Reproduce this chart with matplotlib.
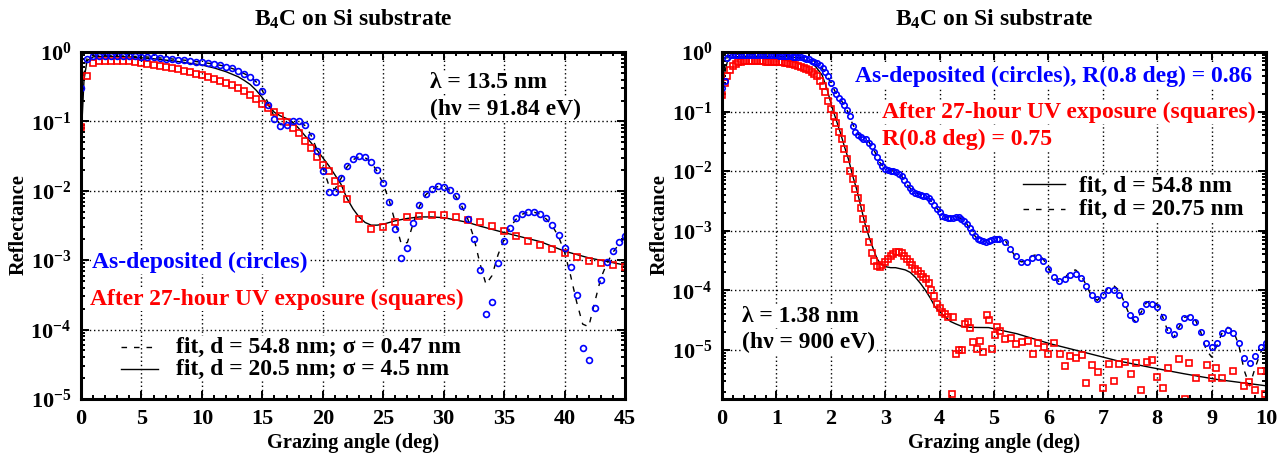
import numpy as np
import matplotlib
matplotlib.use("Agg")
import matplotlib.pyplot as plt
from matplotlib.lines import Line2D
from matplotlib.ticker import LogLocator, NullFormatter, MultipleLocator

# ---------------- data ----------------
# left panel: lambda = 13.5 nm
left_circ_x = [0.0, 0.5, 1.0, 1.5, 2.0, 2.5, 3.0, 3.5, 4.0, 4.5, 5.0, 5.5, 6.0, 6.5, 7.0, 7.5, 8.0, 8.5, 9.0, 9.5,
               10.0, 10.5, 11.0, 11.5, 12.0, 12.5, 13.0, 13.5, 14.0, 14.5, 15.0, 15.5, 16.0, 16.5, 17.0, 17.5, 18.0, 18.5, 19.0, 19.5,
               20.0, 20.5, 21.0, 21.5, 22.0, 22.5, 23.0, 23.5, 24.0, 24.5, 25.0, 25.5, 26.0, 26.5, 27.0, 27.5, 28.0, 28.5, 29.0, 29.5,
               30.0, 30.5, 31.0, 31.5, 32.0, 32.5, 33.0, 33.5, 34.0, 34.5, 35.0, 35.5, 36.0, 36.5, 37.0, 37.5, 38.0, 38.5, 39.0, 39.5,
               40.0, 40.5, 41.0, 41.5, 42.0, 42.5, 43.0, 43.5, 44.0, 44.5, 45.0]
left_circ_r = [0.30, 0.78, 0.87, 0.88, 0.88, 0.88, 0.88, 0.88, 0.87, 0.87,
               0.86, 0.85, 0.84, 0.82, 0.80, 0.79, 0.77, 0.76, 0.74, 0.72,
               0.71, 0.69, 0.67, 0.64, 0.61, 0.58, 0.53, 0.48, 0.43, 0.37,
               0.27, 0.17, 0.11, 0.087, 0.088, 0.10, 0.10, 0.088, 0.062, 0.038,
               0.019, 0.0097, 0.0095, 0.0155, 0.023, 0.029, 0.032, 0.031, 0.026, 0.020,
               0.0128, 0.0068, 0.0028, 0.00107, 0.00148, 0.0034, 0.0062, 0.0089, 0.0107, 0.0117,
               0.0115, 0.0103, 0.0084, 0.0060, 0.0039, 0.0020, 0.00072, 0.000168, 0.00025, 0.00092,
               0.00186, 0.0029, 0.0040, 0.0047, 0.0050, 0.0050, 0.0047, 0.0040, 0.0032, 0.0023,
               0.00148, 0.00079, 0.00032, 0.000055, 0.000037, 0.000205, 0.00052, 0.00095, 0.00136, 0.0018, 0.0022]

left_sq_x = [0.0, 0.5, 1.0, 1.5, 2.0, 2.5, 3.0, 3.5, 4.0, 4.5, 5.0, 5.5, 6.0, 6.5, 7.0, 7.5, 8.0, 8.5, 9.0, 9.5,
             10.0, 10.5, 11.0, 11.5, 12.0, 12.5, 13.0, 13.5, 14.0, 14.5, 15.0, 15.5, 16.0, 16.5, 17.0, 17.5, 18.0, 18.5, 19.0, 19.5,
             20.0, 20.5, 21.0, 21.5, 22.0,
             23, 24, 25, 26, 27, 28, 29, 30, 31, 32, 33, 34, 35, 36, 37, 38, 39, 40, 41, 42, 43, 44, 45]
left_sq_r = [0.082, 0.45, 0.69, 0.74, 0.75, 0.75, 0.75, 0.74, 0.73, 0.72,
             0.70, 0.68, 0.66, 0.63, 0.61, 0.59, 0.57, 0.54, 0.52, 0.49,
             0.47, 0.44, 0.41, 0.385, 0.36, 0.33, 0.30, 0.27, 0.24, 0.21,
             0.18, 0.155, 0.135, 0.12, 0.097, 0.081, 0.067, 0.052, 0.042, 0.031,
             0.0235, 0.019, 0.014, 0.0105, 0.0075,
             0.0039, 0.00285, 0.0030, 0.0035, 0.0042, 0.0044, 0.0045, 0.0045, 0.0042, 0.0038, 0.0035, 0.0031,
             0.00266, 0.0022, 0.0019, 0.00166, 0.00145, 0.00126, 0.00112, 0.00098, 0.0009, 0.00085, 0.00081]

# solid fit (d = 20.5 nm; sigma = 4.5 nm)
left_fit_solid_x = [0, 0.25, 0.5, 1, 2, 4, 6, 8, 10, 11, 12, 13, 13.5, 14, 14.5, 15, 15.5, 16, 16.5, 17, 17.5, 18, 18.5,
                    19, 19.5, 20, 20.5, 21, 21.5, 22, 22.5, 23, 23.5, 24, 24.5, 25, 26, 27, 28, 29, 30, 31, 32, 33,
                    35, 38, 40, 42, 45]
left_fit_solid_r = [0.05, 0.4, 0.75, 0.85, 0.87, 0.85, 0.80, 0.73, 0.65, 0.59, 0.52, 0.44, 0.39, 0.34, 0.28, 0.22, 0.17,
                    0.135, 0.12, 0.11, 0.098, 0.08, 0.063, 0.05, 0.039, 0.030, 0.023, 0.017, 0.0125, 0.0078, 0.0055,
                    0.0042, 0.0035, 0.0032, 0.0032, 0.0033, 0.0037, 0.0040, 0.0042, 0.0042, 0.0041, 0.0038, 0.0035,
                    0.0031, 0.0025, 0.00185, 0.00135, 0.00108, 0.00085]

# dashed fit (d = 54.8 nm; sigma = 0.47 nm)
left_fit_dash_x = [0, 0.5, 1, 3, 5, 7, 9, 11, 12, 13, 14, 14.5,
                   15.0, 15.5, 16.0, 16.5, 17.0, 17.5, 18.0, 18.5, 19.0, 19.5,
                   20.0, 20.5, 21.0, 21.5, 22.0, 22.5, 23.0, 23.5, 24.0, 24.5,
                   25.0, 25.5, 26.0, 26.5, 27.0, 27.5, 28.0, 28.5, 29.0, 29.5,
                   30.0, 30.5, 31.0, 31.5, 32.0, 32.5, 33.0, 33.5, 34.0, 34.5,
                   35.0, 35.5, 36.0, 36.5, 37.0, 37.5, 38.0, 38.5, 39.0, 39.5,
                   40.0, 40.5, 41.0, 41.5, 42.0, 42.5, 43.0, 43.5, 44.0, 44.5, 45.0]
left_fit_dash_r = [0.3, 0.8, 0.88, 0.88, 0.86, 0.81, 0.75, 0.67, 0.62, 0.54, 0.44, 0.37,
                   0.28, 0.18, 0.115, 0.09, 0.088, 0.096, 0.098, 0.088, 0.065, 0.04,
                   0.022, 0.012, 0.0105, 0.015, 0.022, 0.028, 0.031, 0.030, 0.026, 0.019,
                   0.0125, 0.0072, 0.0035, 0.0017, 0.0018, 0.0035, 0.006, 0.0087, 0.0105, 0.0115,
                   0.0113, 0.0102, 0.0083, 0.006, 0.0039, 0.0021, 0.0009, 0.00045, 0.0006, 0.0012,
                   0.002, 0.003, 0.0039, 0.0046, 0.0049, 0.0049, 0.0046, 0.0039, 0.0031, 0.0022,
                   0.0013, 0.0006, 0.00025, 0.00012, 0.00011, 0.00025, 0.00055, 0.0009, 0.0013, 0.0017, 0.0021]

# right panel: lambda = 1.38 nm
right_circ_x = [0.00, 0.05, 0.10, 0.15, 0.20, 0.25, 0.30, 0.35, 0.40, 0.45, 0.50, 0.55, 0.60, 0.65, 0.70, 0.75, 0.80, 0.85, 0.90, 0.95,
                1.00, 1.05, 1.10, 1.15, 1.20, 1.25, 1.30, 1.35, 1.40, 1.45, 1.50, 1.55, 1.60, 1.65, 1.70, 1.75, 1.80, 1.85, 1.90, 1.95,
                2.00, 2.05, 2.10, 2.15, 2.20, 2.25, 2.30, 2.35, 2.40, 2.45, 2.50, 2.55, 2.60, 2.65, 2.70, 2.75, 2.80, 2.85, 2.90, 2.95,
                3.00, 3.05, 3.10, 3.15, 3.20, 3.25, 3.30, 3.35, 3.40, 3.45, 3.50, 3.55, 3.60, 3.65, 3.70, 3.75, 3.80, 3.85, 3.90, 3.95,
                4.00, 4.05, 4.10, 4.15, 4.20, 4.25, 4.30, 4.35, 4.40, 4.45, 4.50, 4.55, 4.60, 4.65, 4.70, 4.75, 4.80, 4.85, 4.90, 4.95,
                5.00, 5.05, 5.10,
                5.2, 5.3, 5.4, 5.5, 5.6, 5.7, 5.8, 5.9, 6.0, 6.1, 6.2, 6.3, 6.4, 6.5, 6.6, 6.7, 6.8, 6.9, 7.0, 7.1,
                7.2, 7.3, 7.4, 7.5, 7.6, 7.7, 7.8, 7.9, 8.0, 8.1, 8.2, 8.3, 8.4, 8.5, 8.6, 8.7, 8.8, 8.9, 9.0, 9.1,
                9.2, 9.3, 9.4, 9.5, 9.6, 9.7, 9.8, 9.9, 10.0]
right_circ_r = [0.25, 0.33, 0.80, 0.88, 0.90, 0.90, 0.90, 0.90, 0.90, 0.90, 0.90, 0.90, 0.90, 0.89, 0.89, 0.89, 0.89, 0.89, 0.89, 0.88,
                0.88, 0.87, 0.87, 0.86, 0.86, 0.85, 0.84, 0.83, 0.82, 0.81, 0.79, 0.77, 0.75, 0.72, 0.69, 0.65, 0.60, 0.53, 0.46, 0.40,
                0.30, 0.23, 0.20, 0.172, 0.150, 0.128, 0.105, 0.085, 0.058, 0.046, 0.040, 0.037, 0.035, 0.034, 0.030, 0.026, 0.021, 0.017, 0.014, 0.012,
                0.011, 0.0105, 0.0102, 0.0100, 0.0096, 0.0091, 0.0082, 0.0070, 0.0060, 0.0052, 0.0047, 0.0043, 0.0041, 0.0040, 0.0039, 0.0038, 0.0035, 0.0031, 0.0027, 0.0023,
                0.0021, 0.0018, 0.0017, 0.00165, 0.00164, 0.00165, 0.0017, 0.0017, 0.0016, 0.00145, 0.0013, 0.0011, 0.00095, 0.00082, 0.00073, 0.00069, 0.00066, 0.00065, 0.00067, 0.00069,
                0.00072, 0.00074, 0.00074,
                0.00065, 0.00050, 0.00037, 0.00030, 0.00030, 0.00035, 0.00036, 0.00031, 0.00023, 0.00017, 0.000145, 0.000155, 0.00018, 0.00019, 0.00016, 0.00012, 0.000082, 0.000072, 0.000083, 0.0001,
                0.0001, 0.000085, 0.000058, 0.000038, 0.000033, 0.000045, 0.000058, 0.00006, 0.000052, 0.000035, 0.000022, 0.0000185, 0.000025, 0.000034, 0.000035, 0.000029, 0.000020, 0.000013, 0.000011, 0.0000133,
                0.000019, 0.0000214, 0.000019, 0.000013, 0.0000072, 0.0000060, 0.0000078, 0.000011, 0.000013]

right_sq_x = [0.00, 0.05, 0.10, 0.15, 0.20, 0.25, 0.30, 0.35, 0.40, 0.45, 0.50, 0.55, 0.60, 0.65, 0.70, 0.75, 0.80, 0.85, 0.90, 0.95,
              1.00, 1.05, 1.10, 1.15, 1.20, 1.25, 1.30, 1.35, 1.40, 1.45, 1.50, 1.55, 1.60, 1.65, 1.70, 1.75, 1.80, 1.85, 1.90, 1.95,
              2.00, 2.05, 2.10, 2.15, 2.20, 2.25, 2.30, 2.35, 2.40, 2.45, 2.50, 2.55, 2.60, 2.65, 2.70, 2.75, 2.80, 2.85, 2.90, 2.95,
              3.00, 3.05, 3.10, 3.15, 3.20, 3.25, 3.30, 3.35, 3.40, 3.45, 3.50, 3.55, 3.60, 3.65, 3.70, 3.75, 3.80, 3.85, 3.90, 3.95,
              4.00, 4.05, 4.10, 4.15,
              4.22, 4.25, 4.31, 4.36, 4.41, 4.47, 4.53, 4.56, 4.62, 4.68, 4.74, 4.80, 4.87, 4.91, 4.96, 5.01, 5.06, 5.11, 5.20, 5.31,
              5.40, 5.51, 5.63, 5.71, 5.81, 5.91, 6.00, 6.11, 6.21, 6.31, 6.40, 6.51, 6.61, 6.70, 6.81, 6.91, 7.01, 7.11, 7.21, 7.30,
              7.41, 7.51, 7.61, 7.70, 7.81, 7.90, 8.00, 8.10, 8.20, 8.40, 8.51, 8.59, 8.71, 8.91, 9.00, 9.09, 9.20, 9.40, 9.60, 9.69,
              9.80, 9.91, 9.98]
right_sq_r = [0.19, 0.30, 0.40, 0.50, 0.58, 0.64, 0.67, 0.69, 0.70, 0.70, 0.70, 0.70, 0.70, 0.70, 0.70, 0.70, 0.69, 0.69, 0.69, 0.68,
              0.68, 0.67, 0.67, 0.66, 0.65, 0.64, 0.63, 0.61, 0.59, 0.57, 0.54, 0.52, 0.49, 0.46, 0.43, 0.39, 0.33, 0.27, 0.21, 0.15,
              0.11, 0.085, 0.065, 0.046, 0.035, 0.024, 0.016, 0.010, 0.0075, 0.0050, 0.0036, 0.0024, 0.0016, 0.00105, 0.00065, 0.00042, 0.00031, 0.00026, 0.00025, 0.00027,
              0.00030, 0.00034, 0.00038, 0.00041, 0.00044, 0.00044, 0.00042, 0.00038, 0.00033, 0.00030, 0.00027, 0.00023, 0.00021, 0.00019, 0.00017, 0.000155, 0.000135, 0.000100, 0.000080, 0.000060,
              0.000050, 0.000043, 0.000040, 0.000036,
              1.8e-6, 3.6e-5, 8.6e-6, 1.0e-5, 1.0e-5, 2.7e-5, 2.9e-5, 2.3e-5, 1.35e-5, 1.05e-5, 1.4e-5, 9.2e-6, 3.8e-5, 3.2e-5, 1.05e-5, 1.8e-5, 2.4e-5, 2.1e-5, 1.55e-5, 1.6e-5,
              1.26e-5, 1.35e-5, 1.4e-5, 8.6e-6, 1.3e-5, 1.1e-5, 8.6e-6, 1.3e-5, 8.6e-6, 5.3e-6, 7.8e-6, 7.3e-6, 8.2e-6, 2.8e-6, 5.5e-6, 4.2e-6, 2.3e-6, 5.7e-6, 3.0e-6, 5.7e-6,
              6.3e-6, 3.9e-6, 6.0e-6, 2.1e-6, 6.3e-6, 6.8e-6, 3.5e-6, 2.3e-6, 4.9e-6, 7.1e-6, 1.5e-6, 6.0e-6, 3.4e-6, 5.5e-6, 3.4e-6, 4.9e-6, 3.4e-6, 4.4e-6, 2.5e-6, 2.9e-6,
              2.1e-6, 4.4e-6, 1.8e-6]

# solid fit (d = 54.8 nm) follows the squares
right_fit_solid_x = [0, 0.05, 0.1, 0.2, 0.4, 0.8, 1.2, 1.4, 1.55, 1.65, 1.72, 1.84, 1.93, 2.02, 2.1, 2.18, 2.25, 2.33, 2.4, 2.48,
                     2.55, 2.63, 2.71, 2.79, 2.85, 2.91, 3.0, 3.1, 3.19, 3.28, 3.37, 3.46, 3.55, 3.65, 3.74, 3.83, 3.92, 4.01, 4.11, 4.2,
                     4.29, 4.4, 4.53, 4.7, 4.9, 5.42, 6.03, 6.64, 7.26, 7.87, 8.48, 9.09, 10.0]
right_fit_solid_r = [0.2, 0.45, 0.7, 0.82, 0.85, 0.85, 0.83, 0.80, 0.72, 0.64, 0.57, 0.41, 0.24, 0.12, 0.072, 0.043, 0.026, 0.0153, 0.0085, 0.0048,
                     0.0026, 0.0013, 0.00075, 0.00047, 0.00034, 0.00028, 0.00025, 0.00024, 0.00024, 0.00023, 0.00022, 0.0002, 0.000167, 0.00013, 0.0001, 0.000074, 0.000052, 0.000043, 0.0000355, 0.00003,
                     0.0000275, 0.000025, 0.000024, 0.0000238, 0.0000237, 0.0000187, 0.0000127, 0.0000092, 0.0000066, 0.0000051, 0.000004, 0.0000032, 0.0000025]

# dashed fit (d = 20.75 nm) follows the circles
right_fit_dash_x = [0, 0.05, 0.1, 0.2, 0.5, 1.0, 1.3, 1.5, 1.6, 1.7, 1.8, 1.9,
                    2.0, 2.1, 2.2, 2.3, 2.4, 2.5, 2.6, 2.7, 2.8, 2.9, 3.0, 3.1, 3.2, 3.3, 3.4, 3.5, 3.6, 3.7, 3.8, 3.9,
                    4.0, 4.1, 4.2, 4.3, 4.4, 4.5, 4.6, 4.7, 4.8, 4.9, 5.0, 5.1, 5.2, 5.3, 5.4, 5.5, 5.6, 5.7, 5.8, 5.9,
                    6.0, 6.1, 6.2, 6.3, 6.4, 6.5, 6.6, 6.7, 6.8, 6.9, 7.0, 7.1, 7.2, 7.3, 7.4, 7.5, 7.6, 7.7, 7.8, 7.9,
                    8.0, 8.1, 8.2, 8.3, 8.4, 8.5, 8.6, 8.7, 8.8, 8.9, 9.0, 9.1, 9.2, 9.3, 9.4, 9.5, 9.6, 9.7, 9.8, 9.9, 10.0]
right_fit_dash_r = [0.3, 0.6, 0.85, 0.92, 0.92, 0.89, 0.85, 0.80, 0.76, 0.70, 0.60, 0.45,
                    0.30, 0.20, 0.15, 0.105, 0.062, 0.042, 0.036, 0.031, 0.022, 0.014, 0.011, 0.0103, 0.0097, 0.0083, 0.0060, 0.0047, 0.0042, 0.0040, 0.0035, 0.0027,
                    0.0021, 0.0017, 0.0017, 0.00175, 0.0016, 0.0013, 0.00093, 0.00072, 0.00066, 0.0007, 0.00078, 0.0008, 0.0007, 0.0005, 0.00036, 0.0003, 0.00031, 0.00038, 0.0004, 0.00034,
                    0.00024, 0.00016, 0.00014, 0.00016, 0.00021, 0.00022, 0.00018, 0.00012, 0.000078, 0.000068, 0.000085, 0.00011, 0.00012, 0.0001, 0.000062, 0.000036, 0.00003, 0.000042, 0.000062, 0.000068,
                    0.000058, 0.000036, 0.00002, 0.000016, 0.000024, 0.000035, 0.000038, 0.000032, 0.00002, 0.00001, 0.0000076, 0.000012, 0.00002, 0.000024, 0.000021, 0.000012, 0.0000045, 0.0000025, 0.000005, 0.000009, 0.000013]

ytick_vals = [1e-5, 1e-4, 1e-3, 1e-2, 1e-1, 1e0]
ytick_labels = [r"$10^{-5}$", r"$10^{-4}$", r"$10^{-3}$", r"$10^{-2}$", r"$10^{-1}$", r"$10^{0}$"]

# ---------------- styling ----------------
plt.rcParams["font.family"] = ["Liberation Serif", "DejaVu Serif"]
plt.rcParams["font.weight"] = "bold"
plt.rcParams["mathtext.fontset"] = "custom"
plt.rcParams["mathtext.rm"] = "Liberation Serif:bold"
plt.rcParams["mathtext.bf"] = "Liberation Serif:bold"
plt.rcParams["mathtext.it"] = "Liberation Serif:bold:italic"
plt.rcParams["mathtext.default"] = "rm"

W, H = 1287, 458
fig = plt.figure(figsize=(W / 100, H / 100), dpi=100)


def fx(px):
    return px / W


def fy(py):
    return 1 - py / H


axL = fig.add_axes([fx(81), fy(399), (625 - 81) / W, (399 - 52) / H])
axR = fig.add_axes([fx(722), fy(399), (1266 - 722) / W, (399 - 52) / H])


def style(ax, xmax, xmaj, xmin, ymin):
    ax.set_xlim(0, xmax)
    ax.set_yscale("log")
    ax.set_ylim(ymin, 1)
    ax.xaxis.set_major_locator(MultipleLocator(xmaj))
    ax.xaxis.set_minor_locator(MultipleLocator(xmin))
    ax.set_yticks(ytick_vals, ytick_labels)
    ax.yaxis.set_minor_locator(LogLocator(base=10, subs=np.arange(2, 10), numticks=20))
    ax.yaxis.set_minor_formatter(NullFormatter())
    ax.set_ylim(ymin, 1)
    ax.tick_params(which="both", direction="in", top=True, right=True, width=1.4)
    ax.tick_params(which="major", length=6, labelsize=16, pad=7)
    ax.tick_params(which="minor", length=3)
    for s in ax.spines.values():
        s.set_linewidth(2.2)
    ax.grid(True, which="major", color="black", linestyle=(0, (1, 2)), linewidth=1)
    ax.set_axisbelow(True)


style(axL, 45, 5, 1, 1e-5)
style(axR, 10, 1, 0.2, 1.5e-6)

dash = (0, (4, 5))
mk = dict(linestyle="none", mfc="none", mew=1.2)

axL.plot(left_fit_solid_x, left_fit_solid_r, color="black", lw=1.0)
axL.plot(left_fit_dash_x, left_fit_dash_r, color="black", lw=1.0, linestyle=dash)
axL.plot(left_sq_x, left_sq_r, marker="s", ms=4.4, mec="red", **mk)
axL.plot(left_circ_x, left_circ_r, marker="o", ms=4.2, mec="blue", **mk)

axR.plot(right_fit_solid_x, right_fit_solid_r, color="black", lw=1.0)
axR.plot(right_fit_dash_x, right_fit_dash_r, color="black", lw=1.0, linestyle=dash)
axR.plot(right_sq_x, right_sq_r, marker="s", ms=4.2, mec="red", **mk)
axR.plot(right_circ_x, right_circ_r, marker="o", ms=3.9, mec="blue", **mk)

# ---------------- texts ----------------
fs = 17
box = dict(facecolor="white", edgecolor="none", pad=1)
for cx in (353, 994):
    fig.text(fx(cx), fy(26), r"B$_{4}$C on Si substrate", ha="center", va="baseline", fontsize=fs)
    fig.text(fx(cx), fy(448), "Grazing angle (deg)", ha="center", va="baseline", fontsize=14.7)
fig.text(fx(19), fy(225), "Reflectance", rotation=90, ha="center", va="center", fontsize=14.7)
fig.text(fx(660), fy(225), "Reflectance", rotation=90, ha="center", va="center", fontsize=14.7)

fig.text(fx(430), fy(88), "λ = 13.5 nm", va="baseline", fontsize=fs, bbox=box)
fig.text(fx(430), fy(115), "(hν = 91.84 eV)", va="baseline", fontsize=fs, bbox=box)
fig.text(fx(92), fy(268), "As-deposited (circles)", va="baseline", fontsize=fs, color="blue", bbox=box)
fig.text(fx(90), fy(305), "After 27-hour UV exposure (squares)", va="baseline", fontsize=fs, color="red", bbox=box)
fig.text(fx(176), fy(353), "fit, d = 54.8 nm; σ = 0.47 nm", va="baseline", fontsize=fs, bbox=box)
fig.text(fx(176), fy(375), "fit, d = 20.5 nm; σ = 4.5 nm", va="baseline", fontsize=fs, bbox=box)
fig.add_artist(Line2D([fx(121), fx(158)], [fy(347), fy(347)], transform=fig.transFigure,
                      color="black", lw=1.0, linestyle=dash))
fig.add_artist(Line2D([fx(121), fx(158)], [fy(369), fy(369)], transform=fig.transFigure,
                      color="black", lw=1.0))

fig.text(fx(855), fy(82), "As-deposited (circles), R(0.8 deg) = 0.86", va="baseline", fontsize=fs, color="blue", bbox=box)
fig.text(fx(882), fy(118), "After 27-hour UV exposure (squares)", va="baseline", fontsize=fs, color="red", bbox=box)
fig.text(fx(882), fy(145), "R(0.8 deg) = 0.75", va="baseline", fontsize=fs, color="red", bbox=box)
fig.text(fx(1079), fy(192), "fit, d = 54.8 nm", va="baseline", fontsize=fs, bbox=box)
fig.text(fx(1079), fy(215), "fit, d = 20.75 nm", va="baseline", fontsize=fs, bbox=box)
fig.add_artist(Line2D([fx(1023), fx(1065)], [fy(184), fy(184)], transform=fig.transFigure,
                      color="black", lw=1.0))
fig.add_artist(Line2D([fx(1023), fx(1065)], [fy(209), fy(209)], transform=fig.transFigure,
                      color="black", lw=1.0, linestyle=dash))
fig.text(fx(742), fy(322), "λ = 1.38 nm", va="baseline", fontsize=fs, bbox=box)
fig.text(fx(742), fy(348), "(hν = 900 eV)", va="baseline", fontsize=fs, bbox=box)

fig.savefig("out.png", dpi=100)
